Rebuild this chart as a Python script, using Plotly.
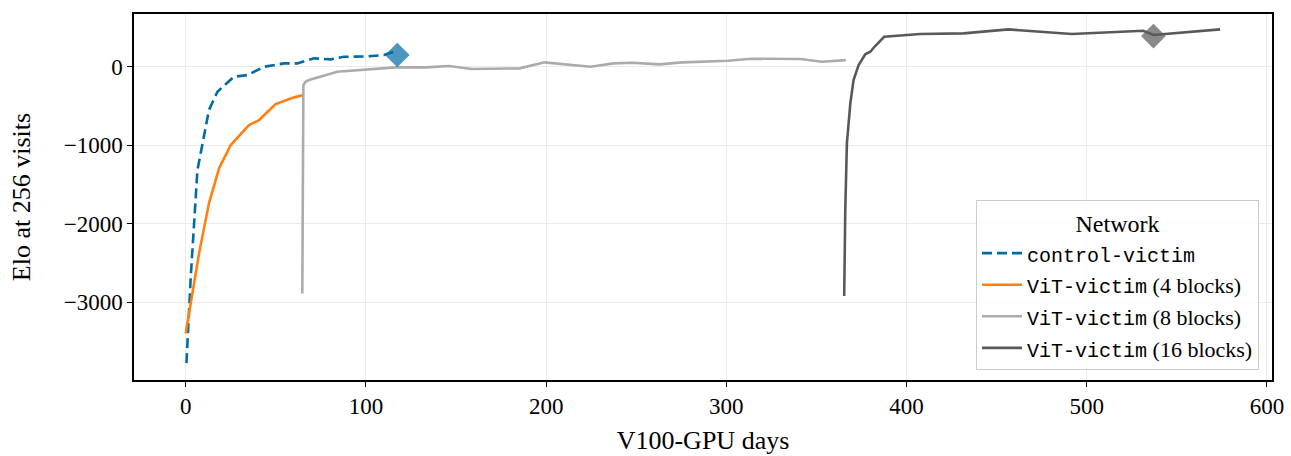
import plotly.graph_objects as go

# V100-GPU days (x) and Elo at 256 visits (y) for each network
control_days = [0.4, 2.8, 6.5, 9.2, 12.9, 17.6, 26.8, 34.2, 43.5, 54.5, 61.9, 71.2, 80.4, 87.8, 98.9, 110.0, 115.5]
control_elo = [-3775, -2675, -1316, -976, -551, -318, -127, -106, 0, 43, 43, 107, 94, 127, 130, 149, 191]

vit4_days = [0.0, 7.4, 12.9, 18.5, 25.0, 35.1, 40.7, 49.9, 60.1, 65.5]
vit4_elo = [-3397, -2377, -1740, -1294, -997, -743, -679, -475, -390, -360]

vit8_days = [64.7, 64.9, 65.3, 66.5, 68.4, 84.1, 98.9, 116.3, 133.3, 146.0, 158.8, 185.3, 199.1,
             224.6, 237.3, 247.9, 262.8, 275.5, 301.0, 313.7, 341.3, 353.0, 366.3]
vit8_elo = [-2887, -1500, -233, -191, -169, -64, -34, -8, -8, 9, -29, -20, 56,
            0, 43, 51, 30, 56, 76, 102, 98, 64, 85]

vit16_days = [365.4, 366.0, 366.9, 368.8, 370.6, 373.4, 377.1, 379.9, 382.6, 385.0, 387.6,
              407.6, 431.6, 456.6, 491.7, 531.4, 537.0, 574.0]
vit16_elo = [-2920, -1825, -976, -467, -169, 21, 158, 191, 264, 318, 382,
             417, 425, 476, 417, 459, 404, 476]

# Highlighted checkpoints
control_mark = ([117.4], [150])
vit16_mark = ([537.0], [391])

x_ticks = [0, 100, 200, 300, 400, 500, 600]
y_ticks = [0, -1000, -2000, -3000]

BLUE, ORANGE, LIGHT, DARK = "#006BA4", "#FF800E", "#ABABAB", "#595959"
SERIF = "Liberation Serif"
MONO = "Liberation Mono"


def tt(text):
    return f'<span style="font-family:{MONO};font-size:20px">{text}</span>'


fig = go.Figure()
fig.add_trace(go.Scatter(x=control_days, y=control_elo, mode="lines", name=tt("control-victim"),
                         line=dict(color=BLUE, width=2.6, dash="10px,5px")))
fig.add_trace(go.Scatter(x=vit4_days, y=vit4_elo, mode="lines", name=tt("ViT-victim") + " (4 blocks)",
                         line=dict(color=ORANGE, width=2.6)))
fig.add_trace(go.Scatter(x=vit8_days, y=vit8_elo, mode="lines", name=tt("ViT-victim") + " (8 blocks)",
                         line=dict(color=LIGHT, width=2.6)))
fig.add_trace(go.Scatter(x=vit16_days, y=vit16_elo, mode="lines", name=tt("ViT-victim") + " (16 blocks)",
                         line=dict(color=DARK, width=2.6)))
fig.add_trace(go.Scatter(x=control_mark[0], y=control_mark[1], mode="markers", showlegend=False,
                         marker=dict(symbol="diamond", size=19, color=BLUE, opacity=0.7, line=dict(width=0))))
fig.add_trace(go.Scatter(x=vit16_mark[0], y=vit16_mark[1], mode="markers", showlegend=False,
                         marker=dict(symbol="diamond", size=19, color=DARK, opacity=0.7, line=dict(width=0))))

axis_common = dict(showline=True, linecolor="black", linewidth=1.5, mirror=True,
                   ticks="outside", ticklen=5, tickwidth=1.2, tickcolor="black",
                   showgrid=True, gridcolor="#EBEBEB", gridwidth=1, zeroline=False,
                   automargin=False,
                   tickfont=dict(family=SERIF, size=23, color="black"))

fig.update_xaxes(range=[-28.7, 602.8], tickvals=x_ticks,
                 title=dict(text="V100-GPU days", font=dict(family=SERIF, size=26, color="black"), standoff=12),
                 **axis_common)
fig.update_yaxes(range=[-3990, 672], tickvals=y_ticks,
                 title=dict(text="Elo at 256 visits", font=dict(family=SERIF, size=26, color="black"), standoff=26),
                 **axis_common)

fig.update_layout(
    width=1291, height=456,
    margin=dict(l=134, r=19, t=14, b=76),
    paper_bgcolor="white", plot_bgcolor="white",
    font=dict(family=SERIF, color="black"),
    legend=dict(
        title=dict(text="Network", side="top center", font=dict(family=SERIF, size=24)),
        x=0.9886, y=0.027, xanchor="right", yanchor="bottom",
        bgcolor="rgba(255,255,255,0.85)", bordercolor="#CCCCCC", borderwidth=1,
        font=dict(family=SERIF, size=22, color="black"),
        itemwidth=40, tracegroupgap=0,
    ),
)

fig.write_html("out.html")
